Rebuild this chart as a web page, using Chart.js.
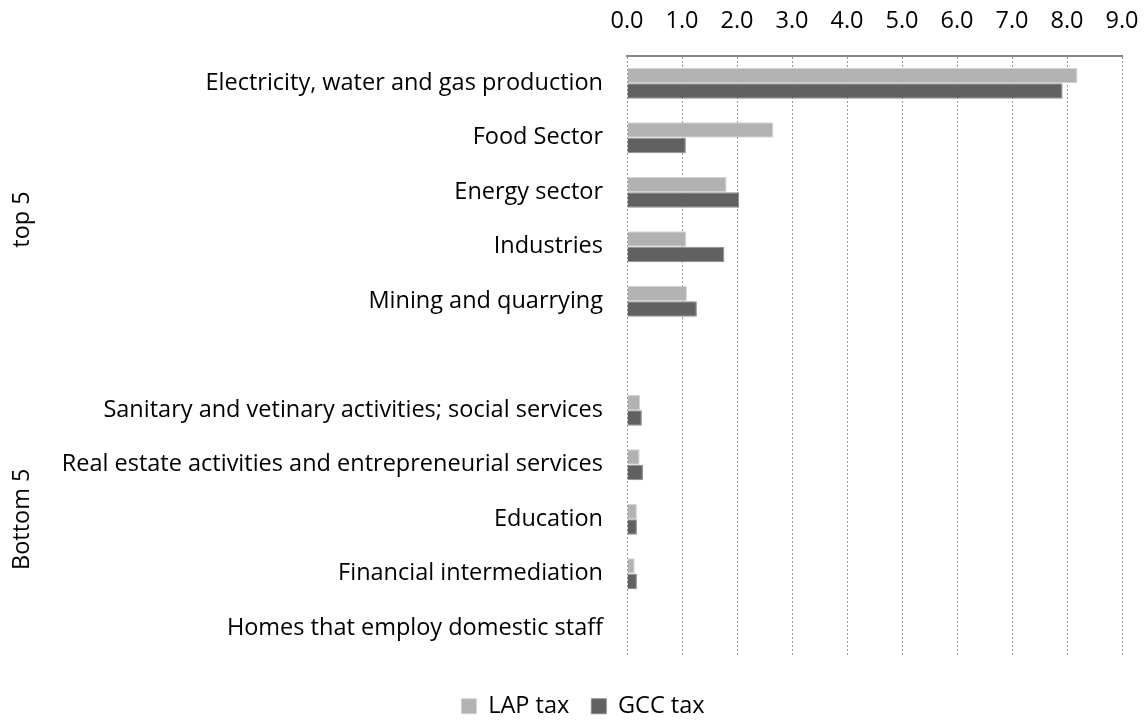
<!DOCTYPE html>
<html>
<head>
<meta charset="utf-8">
<script src="https://cdn.jsdelivr.net/npm/chart.js@4/dist/chart.umd.min.js"></script>
<style>
  html, body { margin: 0; padding: 0; background: #fff; overflow: hidden; }
  canvas { display: block; }
</style>
</head>
<body>
<canvas id="chart" width="1148" height="720"></canvas>
<script>
// Sector categories; the empty entry separates the two groups
const sectors = [
  'Electricity, water and gas production',
  'Food Sector',
  'Energy sector',
  'Industries',
  'Mining and quarrying',
  '',
  'Sanitary and vetinary activities; social services',
  'Real estate activities and entrepreneurial services',
  'Education',
  'Financial intermediation',
  'Homes that employ domestic staff',
];

const lapTax = [8.19, 2.66, 1.81, 1.08, 1.09, null, 0.24, 0.23, 0.18, 0.14, 0];
const gccTax = [7.92, 1.07, 2.04, 1.77, 1.27, null, 0.27, 0.29, 0.18, 0.18, 0];

// Group labels on the left: [label, first index, last index]
const groups = [
  ['top 5', 0, 5],
  ['Bottom 5', 6, 10],
];

const FONT = '"Open Sans", "Noto Sans", sans-serif';
const FONT_SIZE = 23.5;
const LEGEND_PAD = 22;

const groupLabels = {
  id: 'groupLabels',
  afterLayout(chart) {
    // legend sits slightly right of centre, well below the plot
    const lg = chart.legend;
    if (lg) {
      const shift = 594 - (lg.left + lg.right + LEGEND_PAD) / 2;
      lg.left += shift; lg.right += shift;
      lg.top += 17; lg.bottom += 17;
    }
  },
  afterDraw(chart) {
    const ctx = chart.ctx;
    const y = chart.scales.y;
    ctx.save();
    ctx.fillStyle = '#000';
    ctx.font = `${FONT_SIZE}px ${FONT}`;
    ctx.textAlign = 'center';
    ctx.textBaseline = 'middle';
    groups.forEach(([label, a, b]) => {
      const mid = (y.getPixelForValue(a) + y.getPixelForValue(b)) / 2;
      ctx.save();
      ctx.translate(22, mid);
      ctx.rotate(-Math.PI / 2);
      ctx.fillText(label, 0, 0);
      ctx.restore();
    });
    ctx.restore();
  },
};

new Chart(document.getElementById('chart'), {
  type: 'bar',
  data: {
    labels: sectors,
    datasets: [
      {
        label: 'LAP tax',
        data: lapTax,
        backgroundColor: '#b2b2b2',
        borderColor: '#d4d4d4',
        borderWidth: 1,
        categoryPercentage: 0.57,
        barPercentage: 1.0,
      },
      {
        label: 'GCC tax',
        data: gccTax,
        backgroundColor: '#616161',
        borderColor: '#8a8a8a',
        borderWidth: 1,
        categoryPercentage: 0.57,
        barPercentage: 1.0,
      },
    ],
  },
  options: {
    indexAxis: 'y',
    responsive: false,
    animation: false,
    layout: { padding: { left: 0, right: 14, top: 0, bottom: 9 } },
    plugins: {
      tooltip: { enabled: false },
      legend: {
        position: 'bottom',
        labels: {
          font: { family: FONT, size: FONT_SIZE },
          color: '#000',
          boxWidth: 15,
          boxHeight: 15,
          padding: LEGEND_PAD,
        },
      },
    },
    scales: {
      x: {
        position: 'top',
        min: 0,
        max: 9,
        ticks: {
          stepSize: 1,
          padding: 21,
          color: '#000',
          font: { family: FONT, size: FONT_SIZE },
          callback: v => Number(v).toFixed(1),
        },
        grid: { color: '#9a9a9a', drawTicks: false },
        border: { color: '#868686', width: 2, dash: [2, 2] },
        afterFit(scale) {
          scale.height = 56;
          // tick padding would otherwise widen the side margins
          scale.paddingLeft = 0;
          scale.paddingRight = 26;
        },
      },
      y: {
        ticks: {
          padding: 24,
          color: '#000',
          font: { family: FONT, size: FONT_SIZE },
          autoSkip: false,
        },
        grid: { display: false, drawTicks: false },
        border: { display: false },
        afterFit(scale) { scale.width = 627; },
      },
    },
  },
  plugins: [groupLabels],
});
</script>
</body>
</html>
